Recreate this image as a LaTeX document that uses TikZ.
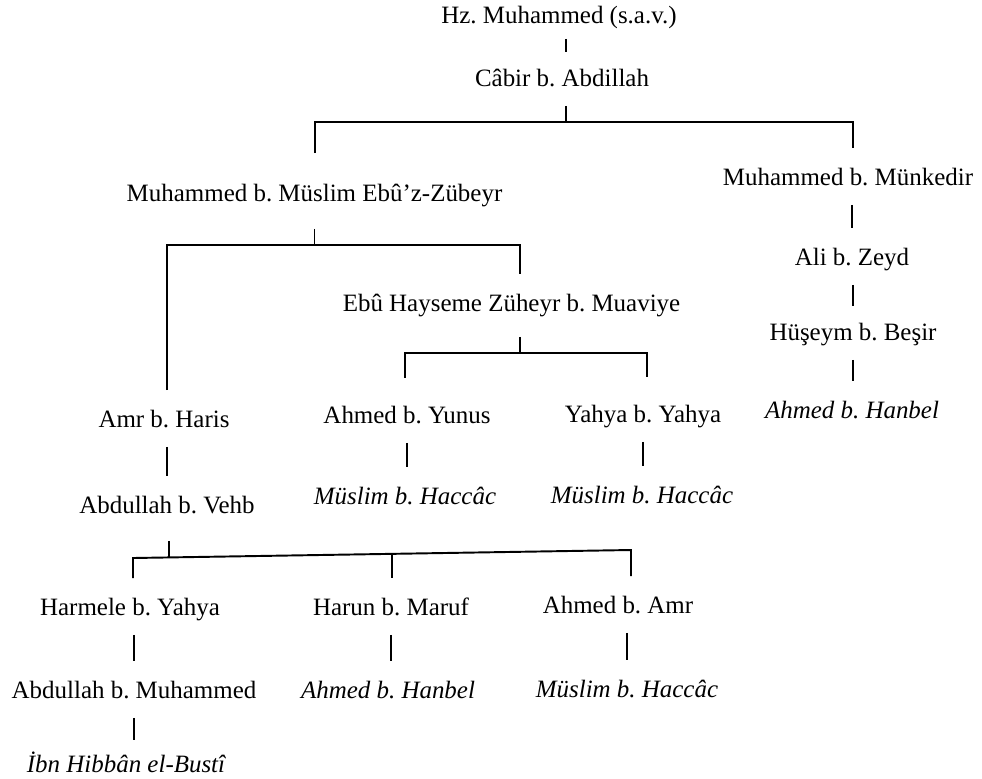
\documentclass[tikz,border=0pt]{standalone}
\usepackage{fontspec}
\setmainfont{Liberation Serif}
\usepackage{tikz}
\frenchspacing

\begin{document}
\begin{tikzpicture}[x=0.02cm,y=-0.02cm,line width=1.1pt,
	name_node/.style={anchor=base,inner xsep=0pt,inner ysep=0.28cm,text height=0.44cm,text depth=0.1cm,font=\fontsize{14.2}{17}\selectfont},
	source_node/.style={name_node,font=\fontsize{14.2}{17}\selectfont\itshape}]
	\useasboundingbox (0,0) rectangle (982,778);
	\node[name_node] (hz) at (559,23) {Hz. Muhammed (s.a.v.)};
	\node[name_node] (cabir) at (562,86) {Câbir b. Abdillah};
	\node[name_node] (zubeyr) at (314.5,201) {Muhammed b. Müslim Ebû’z-Zübeyr};
	\node[name_node] (munkedir) at (848,185) {Muhammed b. Münkedir};
	\node[name_node] (ali) at (852,265) {Ali b. Zeyd};
	\node[name_node] (huseym) at (853,340) {Hüşeym b. Beşir};
	\node[source_node] (hanbel_a) at (852,418) {Ahmed b. Hanbel};
	\node[name_node] (hayseme) at (511.5,311) {Ebû Hayseme Züheyr b. Muaviye};
	\node[name_node] (amr) at (164,427) {Amr b. Haris};
	\node[name_node] (yunus) at (407,423) {Ahmed b. Yunus};
	\node[name_node] (yahya) at (643,422) {Yahya b. Yahya};
	\node[name_node] (vehb) at (167,513) {Abdullah b. Vehb};
	\node[source_node] (muslim_a) at (405,504) {Müslim b. Haccâc};
	\node[source_node] (muslim_b) at (642,503) {Müslim b. Haccâc};
	\node[name_node] (harmele) at (130,615) {Harmele b. Yahya};
	\node[name_node] (harun) at (391,615) {Harun b. Maruf};
	\node[name_node] (ahmedamr) at (618,613) {Ahmed b. Amr};
	\node[name_node] (abdullahm) at (134,698) {Abdullah b. Muhammed};
	\node[source_node] (hanbel_b) at (388,698) {Ahmed b. Hanbel};
	\node[source_node] (muslim_c) at (627,697) {Müslim b. Haccâc};
	\node[source_node] (hibban) at (126,772) {İbn Hibbân el-Bustî};

	\coordinate (fork_a) at (566,122);
	\coordinate (fork_a_l) at (315,122);
	\coordinate (fork_a_r) at (853,122);
	\coordinate (fork_b_l) at (167,245);
	\coordinate (fork_b_r) at (520,245);
	\coordinate (fork_c_l) at (405,353);
	\coordinate (fork_c_r) at (647,353);
	\coordinate (fork_d_l) at (133,558);
	\coordinate (fork_d_r) at (631,550);
	\coordinate (fork_d_s) at (169,557.4);
	\coordinate (fork_d_m) at (392,553.8);

	\draw[shorten <=-0.08cm,shorten >=-0.06cm] (fork_a |- hz.south) -- (fork_a |- cabir.north);
	\draw (fork_a |- cabir.south) -- (fork_a);
	\draw[shorten <=0.22cm] (fork_a_l |- zubeyr.north) -- (fork_a_l) -- (fork_a_r) -- (fork_a_r |- munkedir.north);
	\draw (ali.north |- munkedir.south) -- (ali.north);
	\draw[shorten >=-0.06cm] (huseym.north |- ali.south) -- (huseym.north);
	\draw (huseym.south) -- (huseym.south |- hanbel_a.north);

	\draw[shorten <=0.16cm] (zubeyr.south) -- (zubeyr.south |- fork_b_l);
	\draw (fork_b_l |- amr.north) -- (fork_b_l) -- (fork_b_r) -- (fork_b_r |- hayseme.north);
	\draw[shorten <=0.12cm] (fork_b_r |- hayseme.south) -- (fork_b_r |- fork_c_l);
	\draw[shorten <=0.17cm,shorten >=0.17cm] (fork_c_l |- yunus.north) -- (fork_c_l) -- (fork_c_r) -- (fork_c_r |- yahya.north);
	\draw (vehb.north |- amr.south) -- (vehb.north);
	\draw (yunus.south) -- (yunus.south |- muslim_a.north);
	\draw (yahya.south) -- (yahya.south |- muslim_b.north);

	\draw[shorten <=0.16cm] (fork_d_s |- vehb.south) -- (fork_d_s);
	\draw (fork_d_l |- harmele.north) -- (fork_d_l) -- (fork_d_r) -- (fork_d_r |- ahmedamr.north);
	\draw (fork_d_m) -- (fork_d_m |- harun.north);
	\draw (abdullahm.north |- harmele.south) -- (abdullahm.north);
	\draw (harun.south) -- (harun.south |- hanbel_b.north);
	\draw (muslim_c.north |- ahmedamr.south) -- (muslim_c.north);
	\draw[shorten >=-0.1cm] (abdullahm.south) -- (abdullahm.south |- hibban.north);
\end{tikzpicture}
\end{document}
